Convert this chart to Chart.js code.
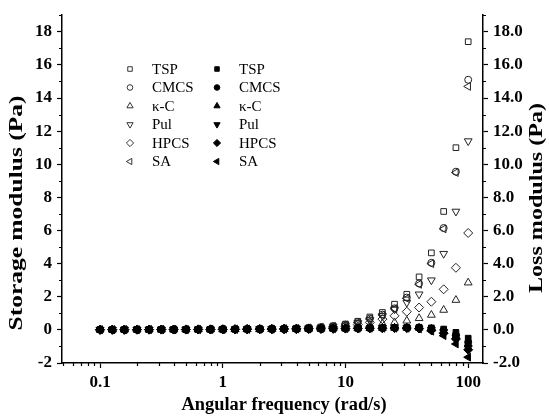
<!DOCTYPE html>
<html>
<head>
<meta charset="utf-8">
<script src="https://cdn.jsdelivr.net/npm/chart.js@4.4.1/dist/chart.umd.min.js"></script>
<style>
body { margin: 0; background: #fff; }
#wrap { width: 549px; height: 417px; }
</style>
</head>
<body>
<div id="wrap"><canvas id="rheo"></canvas></div>
<script>
const freq = [0.1, 0.126, 0.158, 0.2, 0.251, 0.316, 0.398, 0.501, 0.631, 0.794,
    1, 1.26, 1.58, 2, 2.51, 3.16, 3.98, 5.01, 6.31, 7.94,
    10, 12.6, 15.8, 20, 25.1, 31.6, 39.8, 50.1, 63.1, 79.4, 100];

const names = ["TSP", "CMCS", "κ-C", "Pul", "HPCS", "SA"];
const styles = ["rect", "circle", "triangle", "triangle", "rectRot", "triangle"];
const rotations = [0, 0, 0, 180, 0, -90];
const radii = [4, 3.5, 4.5, 4.5, 4.5, 4.5];

// storage modulus G' (open symbols, left axis)
const storageTSP = [0.01, 0.01, 0.01, 0.02, 0.02, 0.02, 0.02, 0.03, 0.03, 0.03, 0.04, 0.04, 0.05, 0.06, 0.07, 0.08, 0.1, 0.13, 0.17, 0.24, 0.35, 0.52, 0.78, 1.05, 1.55, 2.15, 3.2, 4.65, 7.15, 11.0, 17.4];
const storageCMCS = [0.01, 0.01, 0.01, 0.01, 0.02, 0.02, 0.02, 0.02, 0.03, 0.03, 0.03, 0.04, 0.05, 0.05, 0.06, 0.08, 0.09, 0.12, 0.16, 0.22, 0.32, 0.47, 0.68, 0.92, 1.3, 1.95, 2.8, 4.05, 6.15, 9.55, 15.1];
const storageKC = [0.01, 0.01, 0.01, 0.01, 0.01, 0.01, 0.02, 0.02, 0.02, 0.02, 0.02, 0.03, 0.03, 0.03, 0.04, 0.05, 0.06, 0.07, 0.09, 0.12, 0.16, 0.22, 0.3, 0.38, 0.45, 0.55, 0.7, 0.9, 1.2, 1.8, 2.85];
const storagePul = [0.01, 0.01, 0.01, 0.02, 0.02, 0.02, 0.02, 0.02, 0.03, 0.03, 0.03, 0.04, 0.05, 0.05, 0.06, 0.07, 0.09, 0.11, 0.15, 0.2, 0.28, 0.42, 0.6, 0.85, 1.25, 1.65, 2.15, 3.0, 4.6, 7.15, 11.4];
const storageHPCS = [0.01, 0.01, 0.01, 0.01, 0.01, 0.02, 0.02, 0.02, 0.02, 0.02, 0.03, 0.03, 0.04, 0.04, 0.05, 0.06, 0.07, 0.09, 0.12, 0.16, 0.22, 0.32, 0.45, 0.65, 0.85, 1.1, 1.35, 1.7, 2.45, 3.75, 5.85];
const storageSA = [0.01, 0.01, 0.01, 0.01, 0.02, 0.02, 0.02, 0.02, 0.03, 0.03, 0.03, 0.04, 0.05, 0.05, 0.06, 0.08, 0.09, 0.12, 0.16, 0.21, 0.3, 0.45, 0.66, 0.9, 1.28, 1.9, 2.75, 4.0, 6.1, 9.5, 14.7];

// loss modulus G'' (filled symbols, right axis)
const lossTSP = [0.02, 0.02, 0.02, 0.02, 0.03, 0.03, 0.03, 0.03, 0.03, 0.04, 0.04, 0.04, 0.05, 0.05, 0.05, 0.06, 0.06, 0.07, 0.07, 0.08, 0.09, 0.1, 0.11, 0.12, 0.13, 0.15, 0.16, 0.12, 0.05, -0.15, -0.5];
const lossCMCS = [0.02, 0.02, 0.02, 0.02, 0.02, 0.03, 0.03, 0.03, 0.03, 0.03, 0.04, 0.04, 0.04, 0.05, 0.05, 0.05, 0.06, 0.06, 0.07, 0.08, 0.09, 0.1, 0.11, 0.12, 0.13, 0.14, 0.14, 0.08, -0.02, -0.3, -0.75];
const lossKC = [0.01, 0.01, 0.02, 0.02, 0.02, 0.02, 0.02, 0.03, 0.03, 0.03, 0.03, 0.04, 0.04, 0.04, 0.05, 0.05, 0.05, 0.06, 0.06, 0.07, 0.08, 0.09, 0.1, 0.11, 0.12, 0.12, 0.12, 0.05, -0.08, -0.38, -0.9];
const lossPul = [0.01, 0.02, 0.02, 0.02, 0.02, 0.02, 0.03, 0.03, 0.03, 0.03, 0.04, 0.04, 0.04, 0.05, 0.05, 0.05, 0.06, 0.06, 0.07, 0.07, 0.08, 0.09, 0.1, 0.11, 0.12, 0.12, 0.1, 0.02, -0.12, -0.45, -1.05];
const lossHPCS = [0.01, 0.01, 0.01, 0.02, 0.02, 0.02, 0.02, 0.02, 0.03, 0.03, 0.03, 0.03, 0.04, 0.04, 0.04, 0.05, 0.05, 0.06, 0.06, 0.07, 0.08, 0.09, 0.1, 0.1, 0.11, 0.11, 0.08, -0.02, -0.2, -0.55, -1.2];
const lossSA = [0.01, 0.01, 0.01, 0.01, 0.02, 0.02, 0.02, 0.02, 0.02, 0.03, 0.03, 0.03, 0.03, 0.04, 0.04, 0.04, 0.05, 0.05, 0.06, 0.07, 0.08, 0.09, 0.1, 0.1, 0.1, 0.1, 0.06, -0.08, -0.35, -0.85, -1.65];

const storage = [storageTSP, storageCMCS, storageKC, storagePul, storageHPCS, storageSA];
const loss = [lossTSP, lossCMCS, lossKC, lossPul, lossHPCS, lossSA];

const xTicks = [0.1, 1, 10, 100];
const xMinor = [0.05, 0.06, 0.07, 0.08, 0.09, 0.2, 0.3, 0.4, 0.5, 0.6, 0.7, 0.8, 0.9,
    2, 3, 4, 5, 6, 7, 8, 9, 20, 30, 40, 50, 60, 70, 80, 90];
const yTicks = [-2, 0, 2, 4, 6, 8, 10, 12, 14, 16, 18];
const yMinor = [-1, 1, 3, 5, 7, 9, 11, 13, 15, 17, 19];

const serif = '"Liberation Serif", "Times New Roman", serif';
const tickFont = { family: serif, size: 17, weight: "bold" };

function toPoints(values) {
    return freq.map((f, i) => ({ x: f, y: values[i] }));
}

const datasets = [];
names.forEach((name, i) => {
    datasets.push({
        label: name + " G'",
        data: toPoints(storage[i]),
        yAxisID: "y",
        order: 2,
        pointStyle: styles[i],
        rotation: rotations[i],
        pointRadius: radii[i],
        pointBorderWidth: 1,
        pointBorderColor: "#222",
        pointBackgroundColor: "rgba(0,0,0,0)",
        showLine: false,
    });
});
names.forEach((name, i) => {
    datasets.push({
        label: name + " G''",
        data: toPoints(loss[i]),
        yAxisID: "y2",
        order: 1,
        pointStyle: styles[i],
        rotation: rotations[i],
        pointRadius: radii[i],
        pointBorderWidth: 1,
        pointBorderColor: "#000",
        pointBackgroundColor: "#000",
        showLine: false,
    });
});

// legend drawn inside the plot, two columns (open / filled)
const innerLegend = {
    id: "innerLegend",
    afterDatasetsDraw(chart) {
        const ctx = chart.ctx;
        ctx.save();
        ctx.font = "15px " + serif;
        ctx.textBaseline = "middle";
        names.forEach((name, i) => {
            const y = 69 + i * 18.5;
            [[130, false], [217, true]].forEach(([x, filled]) => {
                ctx.strokeStyle = filled ? "#000" : "#333";
                ctx.fillStyle = filled ? "#000" : "rgba(0,0,0,0)";
                ctx.lineWidth = 1;
                Chart.helpers.drawPoint(ctx, {
                    pointStyle: styles[i],
                    rotation: rotations[i],
                    radius: radii[i] * 0.8,
                    borderWidth: 1,
                }, x, y);
                ctx.fillStyle = "#000";
                ctx.fillText(name, x + 22, y + 1);
            });
        });
        ctx.restore();
    },
};

// short minor tick marks on the outside of the axes
const minorTicks = {
    id: "minorTicks",
    afterDraw(chart) {
        const { ctx, chartArea, scales } = chart;
        ctx.save();
        ctx.strokeStyle = "#000";
        ctx.lineWidth = 1.2;
        ctx.beginPath();
        yMinor.forEach((v) => {
            const py = Math.round(scales.y.getPixelForValue(v)) + 0.5;
            ctx.moveTo(chartArea.left, py);
            ctx.lineTo(chartArea.left - 3, py);
            ctx.moveTo(chartArea.right, py);
            ctx.lineTo(chartArea.right + 3, py);
        });
        xMinor.forEach((v) => {
            const px = Math.round(scales.x.getPixelForValue(v)) + 0.5;
            if (px < chartArea.left || px > chartArea.right) return;
            ctx.moveTo(px, chartArea.bottom);
            ctx.lineTo(px, chartArea.bottom + 3);
        });
        ctx.stroke();
        ctx.restore();
    },
};

// axis titles; the vertical ones are stretched along their length like the original figure
const axisTitles = {
    id: "axisTitles",
    afterDraw(chart) {
        const ctx = chart.ctx;
        const specs = [
            { text: "Angular frequency (rad/s)", x: 284, y: 405, angle: 0, length: 205 },
            { text: "Storage modulus (Pa)", x: 17, y: 213, angle: -Math.PI / 2, length: 235 },
            { text: "Loss modulus (Pa)", x: 537, y: 198, angle: -Math.PI / 2, length: 190 },
        ];
        ctx.save();
        ctx.fillStyle = "#000";
        ctx.font = "bold 18px " + serif;
        ctx.textAlign = "center";
        ctx.textBaseline = "middle";
        specs.forEach((s) => {
            const w = ctx.measureText(s.text).width;
            ctx.save();
            ctx.translate(s.x, s.y);
            ctx.rotate(s.angle);
            ctx.scale(s.length / w, 1);
            ctx.fillText(s.text, 0, 0);
            ctx.restore();
        });
        ctx.restore();
    },
};

const axisGrid = {
    drawOnChartArea: false,
    drawTicks: true,
    tickLength: 5,
    tickColor: "#000",
    tickWidth: 1.2,
};
const axisBorder = { display: true, color: "#000", width: 1.5 };

new Chart(document.getElementById("rheo"), {
    type: "scatter",
    data: { datasets: datasets },
    options: {
        responsive: true,
        maintainAspectRatio: false,
        animation: false,
        layout: { padding: { top: 13, left: 0, right: 0, bottom: 0 } },
        plugins: {
            legend: { display: false },
            tooltip: { enabled: false },
        },
        scales: {
            x: {
                type: "logarithmic",
                min: 0.049,
                max: 132,
                grid: axisGrid,
                border: axisBorder,
                afterBuildTicks: (scale) => {
                    scale.ticks = xTicks.map((v) => ({ value: v }));
                },
                afterFit: (scale) => { scale.height = 54; },
                ticks: {
                    color: "#000",
                    font: tickFont,
                    padding: 4,
                    maxRotation: 0,
                    autoSkip: false,
                    callback: (v) => String(v),
                },
            },
            y: {
                type: "linear",
                position: "left",
                min: -2,
                max: 19,
                grid: axisGrid,
                border: axisBorder,
                afterBuildTicks: (scale) => {
                    scale.ticks = yTicks.map((v) => ({ value: v }));
                },
                afterFit: (scale) => { scale.width = 62; },
                ticks: {
                    color: "#000",
                    font: tickFont,
                    padding: 5,
                    callback: (v) => String(v),
                },
            },
            y2: {
                type: "linear",
                position: "right",
                min: -2,
                max: 19,
                grid: axisGrid,
                border: axisBorder,
                afterBuildTicks: (scale) => {
                    scale.ticks = yTicks.map((v) => ({ value: v }));
                },
                afterFit: (scale) => { scale.width = 66; },
                ticks: {
                    color: "#000",
                    font: tickFont,
                    padding: 5,
                    callback: (v) => v.toFixed(1),
                },
            },
        },
    },
    plugins: [innerLegend, minorTicks, axisTitles],
});
</script>
</body>
</html>
